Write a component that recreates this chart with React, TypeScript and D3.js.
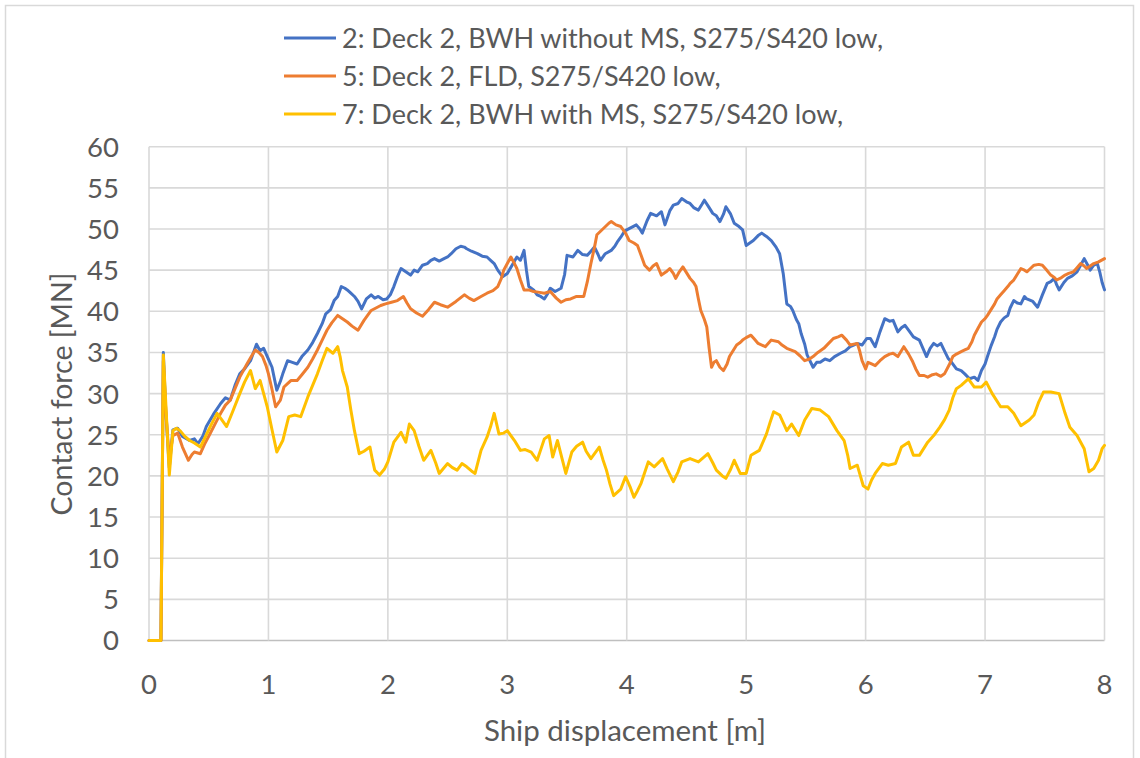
import React from 'react';
import * as d3 from 'd3';

type Pt = [number, number];

// 2: Deck 2, BWH without MS
const seriesBWHnoMS: Pt[] = [
  [0,0],[0.1,0],[0.12,35],[0.14,28],[0.17,21],[0.2,25.6],[0.24,25.8],[0.28,24.8],[0.34,24.3],[0.38,24.5],
  [0.41,23.9],[0.45,24.8],[0.48,26],[0.54,27.5],[0.6,28.8],[0.64,29.5],[0.68,29.2],[0.72,31],[0.76,32.4],[0.8,33],
  [0.85,34],[0.9,36],[0.93,35.2],[0.96,35.5],[1.0,34.2],[1.03,33.2],[1.07,30.4],[1.1,31.5],[1.12,32.4],[1.16,34],
  [1.2,33.8],[1.24,33.6],[1.28,34.5],[1.33,35.3],[1.37,36.2],[1.41,37.3],[1.45,38.5],[1.48,39.7],[1.52,40.2],[1.55,41.3],
  [1.58,41.8],[1.61,43],[1.64,42.8],[1.66,42.6],[1.69,42.2],[1.72,41.8],[1.75,41.2],[1.78,40.3],[1.82,41.5],[1.86,42],
  [1.89,41.6],[1.92,41.8],[1.96,41.4],[1.99,41.5],[2.02,42],[2.05,43],[2.08,44.2],[2.11,45.2],[2.15,44.8],[2.19,44.4],
  [2.22,45],[2.25,44.8],[2.29,45.6],[2.33,45.8],[2.36,46.2],[2.39,46.4],[2.43,46.1],[2.47,46.4],[2.5,46.6],[2.53,47],
  [2.57,47.6],[2.61,47.9],[2.64,47.8],[2.66,47.6],[2.7,47.3],[2.75,47],[2.79,46.7],[2.83,46.6],[2.86,46.2],[2.89,45.8],
  [2.92,45],[2.96,44.2],[3.0,44.6],[3.04,45.6],[3.08,46.6],[3.11,46.2],[3.14,47.4],[3.16,45],[3.18,43],[3.22,42.6],
  [3.25,42],[3.28,41.8],[3.31,41.5],[3.34,42.2],[3.36,42.8],[3.4,42.4],[3.45,42.8],[3.48,44.5],[3.5,46.8],[3.55,46.6],
  [3.59,47.4],[3.63,46.9],[3.67,46.8],[3.7,47.3],[3.73,47.8],[3.76,46.9],[3.78,46.2],[3.82,47],[3.87,47.4],[3.9,47.9],
  [3.92,48.4],[3.95,49],[3.98,49.7],[4.0,49.9],[4.04,50.2],[4.08,50.5],[4.11,50],[4.13,49.5],[4.17,51],[4.2,51.9],
  [4.25,51.6],[4.29,52.1],[4.32,50.5],[4.36,52.2],[4.39,52.9],[4.43,53.1],[4.46,53.7],[4.5,53.3],[4.53,53.1],[4.56,52.6],
  [4.6,52.3],[4.63,53],[4.65,53.5],[4.69,52.6],[4.72,51.9],[4.75,51.6],[4.78,50.9],[4.81,51.8],[4.83,52.7],[4.87,51.8],
  [4.9,50.7],[4.94,50.3],[4.97,49.9],[5.0,48],[5.03,48.3],[5.06,48.6],[5.1,49.2],[5.13,49.5],[5.17,49.1],[5.21,48.6],
  [5.25,47.8],[5.28,47],[5.31,44.6],[5.34,40.9],[5.37,40.6],[5.39,40.1],[5.42,39],[5.44,38.5],[5.46,37.3],[5.49,36],
  [5.51,34.7],[5.56,33.2],[5.59,33.8],[5.62,33.8],[5.66,34.2],[5.7,34],[5.74,34.5],[5.79,34.9],[5.83,35.2],[5.87,35.7],
  [5.9,35.9],[5.93,36.1],[5.97,35.9],[6.01,36.7],[6.04,36.7],[6.08,35.7],[6.12,37.5],[6.16,39.1],[6.2,38.8],[6.23,38.9],
  [6.27,37.5],[6.3,38],[6.33,38.3],[6.37,37.5],[6.4,36.9],[6.45,36.5],[6.48,35.5],[6.51,34.5],[6.54,35.5],[6.57,36.1],
  [6.6,35.8],[6.63,36.1],[6.66,35.2],[6.69,34.3],[6.72,33.8],[6.76,33],[6.8,32.8],[6.83,32.4],[6.87,31.8],[6.91,32],
  [6.94,31.6],[6.97,32.8],[7.0,33.6],[7.02,34.5],[7.05,35.8],[7.08,36.9],[7.1,37.8],[7.13,38.7],[7.16,39.2],[7.19,39.5],
  [7.21,40.4],[7.24,41.3],[7.27,41],[7.3,40.9],[7.33,41.8],[7.35,41.5],[7.4,41.2],[7.44,40.5],[7.48,42],[7.52,43.4],
  [7.55,43.6],[7.58,44],[7.6,43.2],[7.62,42.6],[7.66,43.5],[7.69,44],[7.73,44.3],[7.77,44.8],[7.8,45.6],[7.83,46.4],
  [7.86,45.6],[7.88,45],[7.91,45.6],[7.94,45.8],[7.96,44.8],[7.98,43.5],[8.0,42.6],
];

// 5: Deck 2, FLD
const seriesFLD: Pt[] = [
  [0,0],[0.1,0],[0.12,34],[0.14,28],[0.17,22],[0.2,24.9],[0.24,25.2],[0.28,23.5],[0.33,21.9],[0.36,22.6],
  [0.38,22.9],[0.43,22.7],[0.47,24],[0.51,25.1],[0.56,26.5],[0.6,27.6],[0.64,28.6],[0.68,29.2],[0.72,30.6],[0.76,32],
  [0.82,33.6],[0.86,34.6],[0.89,35.3],[0.92,35],[0.95,34.5],[0.98,33.4],[1.0,32.4],[1.03,30.5],[1.06,28.4],[1.1,29.2],
  [1.13,30.8],[1.16,31.2],[1.19,31.6],[1.24,31.6],[1.28,32.3],[1.33,33.2],[1.37,34.2],[1.41,35.3],[1.45,36.5],[1.49,37.7],
  [1.53,38.6],[1.58,39.5],[1.62,39.1],[1.66,38.7],[1.7,38.2],[1.75,37.7],[1.8,38.9],[1.86,40.1],[1.9,40.4],[1.94,40.7],
  [1.98,40.9],[2.03,41.1],[2.08,41.3],[2.13,41.8],[2.16,41],[2.19,40.3],[2.24,39.8],[2.29,39.4],[2.34,40.2],[2.39,41.1],
  [2.44,40.8],[2.5,40.5],[2.57,41.2],[2.64,42],[2.68,41.6],[2.72,41.3],[2.78,41.8],[2.83,42.2],[2.88,42.5],[2.92,43],
  [2.95,44],[2.97,45],[3.0,45.8],[3.03,46.6],[3.06,45.8],[3.08,45.2],[3.11,43.8],[3.14,42.6],[3.18,42.6],[3.22,42.4],
  [3.27,42.3],[3.31,42.2],[3.36,42.4],[3.41,41.6],[3.45,41.1],[3.49,41.4],[3.53,41.5],[3.58,41.8],[3.64,41.8],[3.67,43.6],
  [3.7,45.8],[3.73,47.8],[3.75,49.3],[3.8,50],[3.85,50.7],[3.87,50.9],[3.91,50.5],[3.95,50.3],[3.99,49.5],[4.02,48.6],
  [4.06,48.3],[4.09,48],[4.12,46.8],[4.15,45.6],[4.19,45],[4.22,45.5],[4.25,45.8],[4.29,44.4],[4.33,44.8],[4.36,45.2],
  [4.39,44.6],[4.41,44],[4.44,44.8],[4.47,45.4],[4.5,44.7],[4.53,44],[4.56,43.5],[4.58,43],[4.6,41.5],[4.62,40.1],
  [4.65,39],[4.67,38.1],[4.69,35.5],[4.71,33.2],[4.73,33.8],[4.75,34],[4.78,33.2],[4.81,32.8],[4.84,33.6],[4.86,34.5],
  [4.89,35.2],[4.92,35.9],[4.95,36.2],[4.97,36.5],[5.0,36.8],[5.04,37.1],[5.07,36.6],[5.1,36.1],[5.16,35.7],[5.21,36.5],
  [5.27,36.3],[5.3,35.9],[5.34,35.5],[5.41,35.1],[5.45,34.6],[5.49,34],[5.53,34.2],[5.56,34.5],[5.6,35],[5.65,35.5],
  [5.69,36.1],[5.73,36.7],[5.77,36.9],[5.8,37.1],[5.84,36.5],[5.87,35.9],[5.93,36.1],[5.95,35.2],[5.97,34],[6.0,33],
  [6.02,33.8],[6.05,33.6],[6.08,33.4],[6.12,34],[6.16,34.5],[6.2,34.8],[6.23,34.9],[6.27,34.5],[6.32,35.7],[6.36,34.8],
  [6.39,34],[6.42,33],[6.45,32.2],[6.49,32.2],[6.52,32],[6.56,32.3],[6.59,32.4],[6.63,32.1],[6.66,32.4],[6.7,33.5],
  [6.73,34.5],[6.76,34.8],[6.8,35.1],[6.83,35.3],[6.86,35.5],[6.89,36.3],[6.91,37.1],[6.94,37.9],[6.97,38.7],[7.0,39.1],
  [7.02,39.5],[7.05,40.2],[7.08,40.9],[7.1,41.5],[7.13,42],[7.16,42.5],[7.19,43],[7.21,43.4],[7.24,43.8],[7.27,44.5],
  [7.3,45.2],[7.33,45],[7.35,44.8],[7.38,45.2],[7.41,45.6],[7.45,45.7],[7.48,45.6],[7.51,45.1],[7.55,44.4],[7.58,44.1],
  [7.6,43.8],[7.64,44.1],[7.67,44.4],[7.7,44.6],[7.74,44.8],[7.77,45.3],[7.8,45.8],[7.83,45.5],[7.85,45.2],[7.88,45.5],
  [7.91,45.8],[7.95,46],[8.0,46.4],
];

// 7: Deck 2, BWH with MS
const seriesBWHwithMS: Pt[] = [
  [0,0],[0.1,0],[0.12,34.7],[0.14,29],[0.17,20.1],[0.2,25.5],[0.23,25.8],[0.26,25.5],[0.3,24.8],[0.34,24.3],
  [0.38,24],[0.43,23.5],[0.48,25],[0.52,26.2],[0.57,27.6],[0.61,26.8],[0.65,26],[0.7,27.8],[0.76,30],[0.8,31.4],
  [0.85,32.8],[0.89,30.6],[0.93,31.6],[0.96,30],[0.99,28.4],[1.03,25.6],[1.07,22.9],[1.12,24.3],[1.17,27.2],[1.22,27.4],
  [1.27,27.2],[1.33,29.6],[1.37,31],[1.41,32.4],[1.45,34],[1.49,35.5],[1.54,34.9],[1.58,35.7],[1.6,34.5],[1.62,32.8],
  [1.66,30.8],[1.69,28],[1.72,25.5],[1.76,22.7],[1.8,23],[1.85,23.5],[1.87,22],[1.89,20.7],[1.93,20.1],[1.97,20.8],
  [2.0,21.7],[2.05,24.1],[2.11,25.3],[2.15,24.1],[2.18,26.3],[2.22,25.5],[2.26,23.6],[2.3,21.9],[2.36,23.1],[2.4,21.6],
  [2.43,20.3],[2.47,21],[2.5,21.5],[2.54,21],[2.58,20.7],[2.62,21.5],[2.66,21.1],[2.7,20.6],[2.73,20.3],[2.78,23.1],
  [2.83,24.7],[2.86,26],[2.89,27.6],[2.93,25.1],[2.97,25.2],[3.0,25.5],[3.06,24.3],[3.11,23.1],[3.15,23.2],[3.2,22.9],
  [3.25,21.9],[3.31,24.5],[3.35,24.9],[3.38,22.3],[3.42,24.3],[3.46,22],[3.49,20.3],[3.54,22.9],[3.58,23.6],[3.63,24.1],
  [3.66,23],[3.7,22.1],[3.77,23.5],[3.8,22],[3.83,20.7],[3.86,19],[3.89,17.6],[3.95,18.4],[3.99,19.9],[4.03,18.6],
  [4.06,17.4],[4.09,18.2],[4.12,19.1],[4.18,21.7],[4.23,21.1],[4.3,22.1],[4.34,20.8],[4.39,19.3],[4.43,20.5],[4.46,21.7],
  [4.53,22.1],[4.6,21.7],[4.68,22.7],[4.72,21.6],[4.75,20.7],[4.8,20],[4.83,19.7],[4.87,20.8],[4.9,21.9],[4.95,20.3],
  [5.0,20.3],[5.04,22.5],[5.11,23.1],[5.17,25.1],[5.2,26.5],[5.23,27.8],[5.28,27.4],[5.34,25.5],[5.38,26.3],[5.44,24.9],
  [5.49,26.8],[5.55,28.2],[5.62,28],[5.69,27.2],[5.76,25.5],[5.82,24.3],[5.85,22.5],[5.87,20.9],[5.93,21.3],[5.98,18.8],
  [6.02,18.4],[6.05,19.5],[6.08,20.3],[6.14,21.5],[6.19,21.3],[6.25,21.5],[6.3,23.5],[6.36,24.1],[6.4,22.5],[6.45,22.5],
  [6.52,24.1],[6.57,24.9],[6.62,25.9],[6.66,26.8],[6.7,28],[6.73,29.5],[6.76,30.6],[6.8,31],[6.86,31.8],[6.91,30.8],
  [6.97,30.8],[7.01,31.4],[7.06,30],[7.13,28.4],[7.19,28.4],[7.24,27.6],[7.3,26.1],[7.37,26.8],[7.41,27.4],[7.45,29],
  [7.49,30.2],[7.55,30.2],[7.62,30],[7.67,27.6],[7.71,25.9],[7.77,24.9],[7.83,23.3],[7.87,20.5],[7.91,20.9],[7.95,21.9],
  [7.98,23.3],[8.0,23.7],
];

const legendLabels = [
  '2: Deck 2, BWH without MS, S275/S420 low,',
  '5: Deck 2, FLD, S275/S420 low,',
  '7: Deck 2, BWH with MS, S275/S420 low,',
];
const seriesColors = ['#4472C4', '#ED7D31', '#FFC000'];
const xTicks = [0, 1, 2, 3, 4, 5, 6, 7, 8];
const yTicks = [0, 5, 10, 15, 20, 25, 30, 35, 40, 45, 50, 55, 60];

const W = 1140;
const H = 758;
const FONT = 'Lato, "Open Sans", sans-serif';
const TEXT = '#595959';
const GRID = '#d9d9d9';

export default function App() {
  const x = d3.scaleLinear().domain([0, 8]).range([149, 1104.5]);
  const y = d3.scaleLinear().domain([0, 60]).range([640.5, 146.7]);
  const line = d3.line<Pt>().x(d => x(d[0])).y(d => y(d[1]));
  const allSeries = [seriesBWHnoMS, seriesFLD, seriesBWHwithMS];

  return (
    <svg width={W} height={H} style={{ position: 'absolute', left: 0, top: 0, display: 'block', background: '#fff' }}>
      <rect x={5.5} y={5.5} width={1128} height={800} fill="#fff" stroke={GRID} strokeWidth={1.5} />

      {/* gridlines */}
      {yTicks.map(t => (
        <line key={'gy' + t} x1={x(0)} x2={x(8)} y1={y(t)} y2={y(t)}
          stroke={t === 0 ? '#bfbfbf' : GRID} strokeWidth={1.6} />
      ))}
      {xTicks.map(t => (
        <line key={'gx' + t} x1={x(t)} x2={x(t)} y1={y(0)} y2={y(60)} stroke={GRID} strokeWidth={1.6} />
      ))}

      {/* tick labels */}
      {yTicks.map(t => (
        <text key={'ty' + t} x={119} y={y(t)} dy="0.36em" textAnchor="end"
          fontFamily={FONT} fontSize={27.5} fill={TEXT}>{t}</text>
      ))}
      {xTicks.map(t => (
        <text key={'tx' + t} x={x(t)} y={684} dy="0.36em" textAnchor="middle"
          fontFamily={FONT} fontSize={27.5} fill={TEXT}>{t}</text>
      ))}

      {/* axis titles */}
      <text x={625} y={730} dy="0.36em" textAnchor="middle" fontFamily={FONT} fontSize={29.5} fill={TEXT}>
        Ship displacement [m]
      </text>
      <text transform={`translate(62,394) rotate(-90)`} dy="0.36em" textAnchor="middle"
        fontFamily={FONT} fontSize={28.5} fill={TEXT}>
        Contact force [MN]
      </text>

      {/* series */}
      {allSeries.map((s, i) => (
        <path key={'s' + i} d={line(s) || ''} fill="none" stroke={seriesColors[i]}
          strokeWidth={3} strokeLinejoin="round" strokeLinecap="round" />
      ))}

      {/* legend */}
      {legendLabels.map((lab, i) => (
        <g key={'lg' + i} transform={`translate(0,${38 + i * 38})`}>
          <line x1={284} x2={336} y1={0} y2={0} stroke={seriesColors[i]} strokeWidth={3} />
          <text x={342} y={0} dy="0.36em" fontFamily={FONT} fontSize={27} fill={TEXT}>{lab}</text>
        </g>
      ))}
    </svg>
  );
}
